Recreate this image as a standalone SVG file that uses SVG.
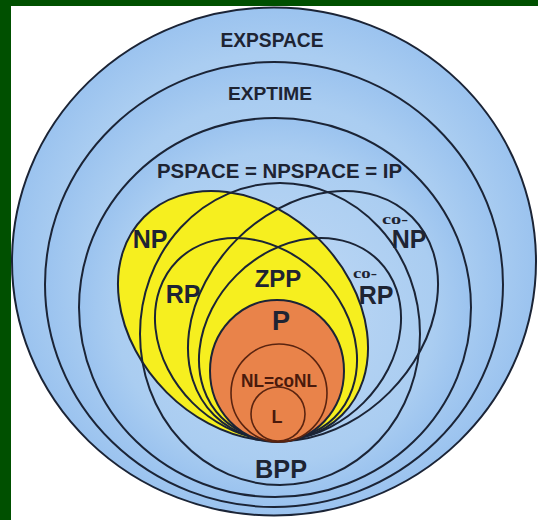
<svg xmlns="http://www.w3.org/2000/svg" width="538" height="520" viewBox="0 0 538 520">
<defs>
<radialGradient id="blue" cx="50%" cy="50%" r="50%">
<stop offset="0" stop-color="#c0d9f5"/>
<stop offset="0.82" stop-color="#aacdf1"/>
<stop offset="1" stop-color="#9bc3ef"/>
</radialGradient>
<style>
.ring{fill:url(#blue);stroke:#1b2436;stroke-width:2}
.line{fill:none;stroke:#1b2436;stroke-width:2}
.yel{fill:#f6ef1f;stroke:#1b2436;stroke-width:2}
.org{fill:#e9834a;stroke:#1b2436;stroke-width:2}
.oline{fill:none;stroke:#5a2410;stroke-width:1.6}
.lbl{font-family:"Liberation Sans",Arial,sans-serif;font-weight:bold;fill:#1e2433;text-anchor:middle}
.co{font-family:"Liberation Serif","Times New Roman",serif;font-weight:bold;fill:#1e2433;text-anchor:middle;font-size:14px}
.in{fill:#4a1a0c}
</style>
</defs>
<rect width="538" height="520" fill="#ffffff"/>
<rect x="0" y="0" width="538" height="6" fill="#005000"/>
<rect x="0" y="0" width="11" height="520" fill="#005000"/>
<g id="EXPSPACE">
<ellipse class="ring" cx="274" cy="261.5" rx="262" ry="254"/>
<text class="lbl" x="272" y="47" font-size="21" textLength="103" lengthAdjust="spacingAndGlyphs">EXPSPACE</text>
</g>
<g id="EXPTIME">
<ellipse class="ring" cx="274" cy="284.5" rx="229" ry="222.5"/>
<text class="lbl" x="270" y="100" font-size="19" textLength="84" lengthAdjust="spacingAndGlyphs">EXPTIME</text>
</g>
<g id="PSPACE">
<ellipse class="ring" cx="275" cy="307.5" rx="196" ry="189.5"/>
<text class="lbl" x="279.5" y="178" font-size="21" textLength="245" lengthAdjust="spacingAndGlyphs">PSPACE = NPSPACE = IP</text>
</g>
<g id="NP">
<ellipse class="yel" cx="243" cy="316" rx="140" ry="108" transform="rotate(45 243 316)"/>
<text class="lbl" x="150" y="248" font-size="25">NP</text>
</g>
<g id="BPP">
<ellipse class="line" cx="280" cy="334" rx="140" ry="151"/>
<text class="lbl" x="281" y="478" font-size="26" textLength="52" lengthAdjust="spacingAndGlyphs">BPP</text>
</g>
<g id="coNP">
<ellipse class="line" cx="313" cy="316" rx="140" ry="108" transform="rotate(-45 313 316)"/>
<text class="co" x="395" y="224" textLength="26" lengthAdjust="spacingAndGlyphs">co-</text>
<text class="lbl" x="409" y="248" font-size="25">NP</text>
</g>
<g id="RP">
<ellipse class="line" cx="256" cy="339" rx="111" ry="90" transform="rotate(45 256 339)"/>
<text class="lbl" x="183" y="303" font-size="25">RP</text>
</g>
<g id="coRP">
<ellipse class="line" cx="300" cy="339" rx="111" ry="90" transform="rotate(-45 300 339)"/>
<text class="co" x="365" y="278" textLength="24" lengthAdjust="spacingAndGlyphs">co-</text>
<text class="lbl" x="376" y="304" font-size="25">RP</text>
</g>
<g id="ZPP">
<text class="lbl" x="278" y="287" font-size="24">ZPP</text>
</g>
<g id="P">
<ellipse class="org" cx="277" cy="371" rx="67" ry="71"/>
<text class="lbl" x="281" y="330" font-size="27">P</text>
</g>
<g id="NL">
<ellipse class="oline" cx="279" cy="393" rx="48" ry="49"/>
<text class="lbl in" x="279" y="387" font-size="18" textLength="76" lengthAdjust="spacingAndGlyphs">NL=coNL</text>
</g>
<g id="L">
<circle class="oline" cx="278" cy="414" r="27"/>
<text class="lbl in" x="277" y="423" font-size="18">L</text>
</g>
<g id="connectors"/>
</svg>
